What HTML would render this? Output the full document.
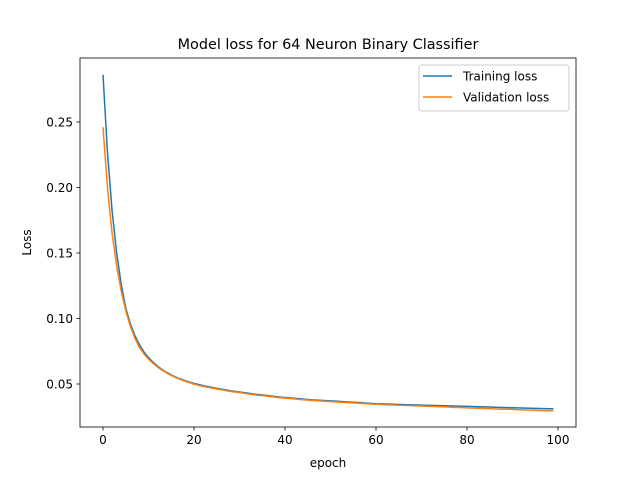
<!DOCTYPE html>
<html><head><meta charset="utf-8"><style>
body{margin:0;background:#fff}
svg{display:block;font-family:"DejaVu Sans","Liberation Sans",sans-serif}
</style></head><body>
<svg id="chart" width="640" height="480" viewBox="0 0 640 480">
<rect width="640" height="480" fill="#fff"/>
<text x="328" y="49" font-size="14.4" text-anchor="middle">Model loss for 64 Neuron Binary Classifier</text>
<g id="plot"></g>
<g id="axes"></g>
<g>
<rect x="419" y="65" width="150" height="46" rx="3" fill="#fff" fill-opacity="0.8" stroke="#ccc"/>
<line x1="423" y1="76" x2="452" y2="76" stroke="#1f77b4" stroke-width="1.5"/>
<text x="463" y="80.5" font-size="12">Training loss</text>
<line x1="423" y1="97" x2="452" y2="97" stroke="#ff7f0e" stroke-width="1.5"/>
<text x="463" y="101.5" font-size="12">Validation loss</text>
</g>
<text x="328" y="467" font-size="12" text-anchor="middle">epoch</text>
<text transform="translate(31,242.5) rotate(-90)" font-size="12" text-anchor="middle">Loss</text>
</svg>
<script>
const trainingLoss=[0.286,0.226,0.182,0.150,0.126,0.108,0.096,0.087,0.080,0.0745,0.0702,0.0666,0.0636,0.0610,0.0588,0.0569,0.0553,0.0539,0.0526,0.0515,
0.0505,0.0496,0.0488,0.0480,0.0473,0.0467,0.0461,0.0455,0.0449,0.0444,0.0439,0.0434,0.0429,0.0424,0.0420,0.0416,0.0412,0.0408,0.0404,0.0400,
0.0397,0.0394,0.0391,0.0388,0.0385,0.0382,0.0379,0.0377,0.0375,0.0373,0.0371,0.0369,0.0367,0.0365,0.0363,0.0361,0.0359,0.0357,0.0354,0.0352,
0.0349,0.0348,0.0347,0.0346,0.0345,0.0344,0.0343,0.0342,0.0341,0.0340,0.0339,0.0338,0.0337,0.0336,0.0335,0.0334,0.0333,0.0332,0.0331,0.0330,
0.0329,0.0328,0.0327,0.0326,0.0325,0.0324,0.0323,0.0322,0.0321,0.0320,0.0319,0.0318,0.0317,0.0316,0.0315,0.0314,0.0313,0.0312,0.0311,0.0311];
const validationLoss=[0.246,0.199,0.165,0.140,0.121,0.106,0.094,0.085,0.078,0.0730,0.0690,0.0657,0.0629,0.0605,0.0584,0.0565,0.0549,0.0535,0.0522,0.0510,
0.0499,0.0490,0.0482,0.0475,0.0468,0.0462,0.0456,0.0450,0.0444,0.0439,0.0434,0.0429,0.0424,0.0419,0.0415,0.0411,0.0407,0.0403,0.0399,0.0395,
0.0392,0.0389,0.0386,0.0383,0.0380,0.0377,0.0374,0.0372,0.0370,0.0368,0.0366,0.0364,0.0362,0.0360,0.0358,0.0356,0.0354,0.0352,0.0349,0.0347,
0.0345,0.0344,0.0342,0.0341,0.0340,0.0338,0.0337,0.0336,0.0334,0.0333,0.0332,0.0330,0.0329,0.0328,0.0326,0.0325,0.0324,0.0322,0.0321,0.0320,
0.0318,0.0317,0.0316,0.0314,0.0313,0.0312,0.0310,0.0309,0.0308,0.0307,0.0306,0.0304,0.0303,0.0302,0.0301,0.0300,0.0298,0.0297,0.0296,0.0296];
const xTicks=[0,20,40,60,80,100];
const yTicks=[0.05,0.10,0.15,0.20,0.25];
const yTickLabels=["0.05","0.10","0.15","0.20","0.25"];

const L=80,R=576,T=58,B=427;
function xs(e){return 103+(e)*4.55;}
function ys(v){return 384-(v-0.05)*1310;}
const NS="http://www.w3.org/2000/svg";
const plot=document.getElementById('plot'),axes=document.getElementById('axes');
function mk(tag,attrs,parent){const el=document.createElementNS(NS,tag);for(const k in attrs)el.setAttribute(k,attrs[k]);parent.appendChild(el);return el;}
function line(data,color,name){
  const d=data.map((v,i)=>(i?'L':'M')+xs(i).toFixed(2)+','+ys(v).toFixed(2)).join('');
  const p=mk('path',{d:d,fill:'none',stroke:color,'stroke-width':1.5,'stroke-linejoin':'round'},plot);
  
  
}
line(trainingLoss,'#1f77b4','training-loss-line');
line(validationLoss,'#ff7f0e','validation-loss-line');
const frame=mk('rect',{x:L,y:T,width:R-L,height:B-T,fill:'none',stroke:'#000','stroke-width':0.8},axes);


xTicks.forEach(t=>{
  const x=xs(t);
  mk('line',{x1:x,y1:B,x2:x,y2:B+3.5,stroke:'#000','stroke-width':0.8},axes);
  const tx=mk('text',{x:x,y:B+17,'font-size':12,'text-anchor':'middle'},axes);
  tx.textContent=t;
  
  
});
yTicks.forEach((t,i)=>{
  const y=ys(t);
  mk('line',{x1:L-3.5,y1:y,x2:L,y2:y,stroke:'#000','stroke-width':0.8},axes);
  const tx=mk('text',{x:L-7,y:y+4.5,'font-size':12,'text-anchor':'end'},axes);
  tx.textContent=yTickLabels[i];
  
  
});
</script>
</body></html>
